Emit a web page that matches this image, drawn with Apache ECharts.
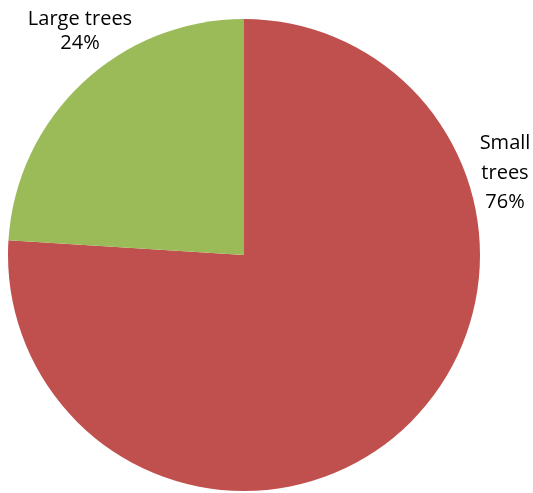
<!DOCTYPE html>
<html><head><meta charset="utf-8">
<script src="https://cdn.jsdelivr.net/npm/echarts@6/dist/echarts.min.js"></script>
<style>html,body{margin:0;padding:0;background:#fff}#c{width:533px;height:493px}</style>
</head><body><div id="c"></div>
<script>
const categories = ["Small trees", "Large trees"];
const values = [76, 24];
const colors = ["#C0504D", "#9BBB59"];
const labelText = ["Small\ntrees\n76%", "Large trees\n24%"];

const chart = echarts.init(document.getElementById('c'), null, {renderer: 'canvas'});
chart.setOption({
  animation: false,
  backgroundColor: '#ffffff',
  series: [{
    type: 'pie',
    center: [244, 255],
    radius: [0, 236],
    startAngle: 90,
    clockwise: true,
    data: categories.map((c, i) => ({
      name: c, value: values[i], itemStyle: {color: colors[i]},
      label: {lineHeight: i === 0 ? 29.5 : 24}
    })),
    label: {
      show: true,
      position: 'outside',
      overflow: 'none',
      edgeDistance: 0,
      bleedMargin: 0,
      formatter: p => labelText[p.dataIndex],
      fontFamily: '"Open Sans", sans-serif',
      fontSize: 20,
      color: '#000',
      align: 'center'
    },
    labelLine: {show: false},
    labelLayout: function (params) {
      if (params.dataIndex === 0) return {x: 505, y: 173, align: 'center', verticalAlign: 'middle'};
      return {x: 80, y: 31, align: 'center', verticalAlign: 'middle'};
    },
    emphasis: {disabled: true}
  }]
});
</script></body></html>
